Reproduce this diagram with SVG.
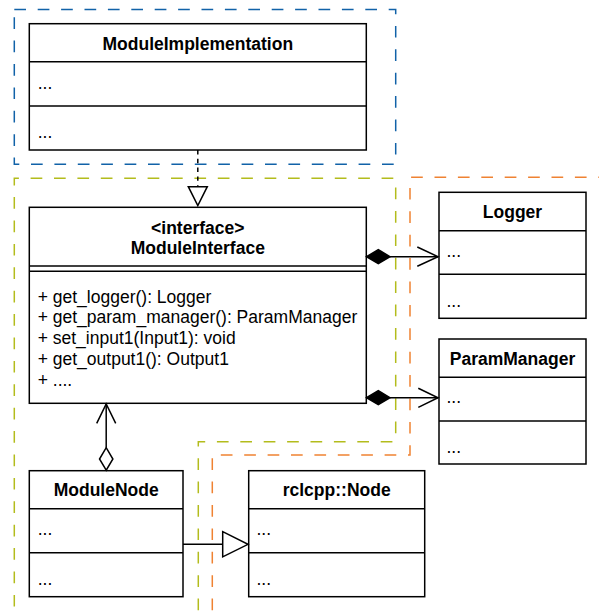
<svg xmlns="http://www.w3.org/2000/svg" width="599" height="616" viewBox="0 0 599 616">
<style>
  .box { fill: #ffffff; stroke: #000000; stroke-width: 1.5; }
  .div { stroke: #000000; stroke-width: 1.5; fill: none; }
  .title { font-family: "Liberation Sans", Arial, Helvetica, sans-serif; font-size: 17.5px; font-weight: bold; text-anchor: middle; fill: #000000; }
  .txt { font-family: "Liberation Sans", Arial, Helvetica, sans-serif; font-size: 17.5px; fill: #000000; }
  .region { fill: none; stroke-width: 1.5; stroke-dasharray: 11.7 11.7; }
  .edge { fill: none; stroke: #000000; stroke-width: 1.5; }
</style>
<rect width="599" height="616" fill="#ffffff"/>

<g id="regions">
  <path class="region" stroke="#1162A8" d="M14.3,9.5 H395.7 V164.3 H14.3 Z"/>
  <path class="region" stroke="#B3BC1C" d="M14.3,630 V178.3 H395.7 V441.7 H198.3 V630"/>
  <path class="region" stroke="#EF8232" d="M610,177.3 H410 V455 H212.3 V630"/>
</g>

<g id="ModuleImplementation">
  <rect class="box" x="29.3" y="23.7" width="337" height="126.3"/>
  <line class="div" x1="29.3" y1="61.7" x2="366.3" y2="61.7"/>
  <line class="div" x1="29.3" y1="106" x2="366.3" y2="106"/>
  <text class="title" x="197.8" y="49.5">ModuleImplementation</text>
  <text class="txt" x="37.7" y="89">...</text>
  <text class="txt" x="37.7" y="138">...</text>
</g>

<g id="ModuleInterface">
  <rect class="box" x="29.3" y="207.3" width="337" height="196"/>
  <line class="div" x1="29.3" y1="266" x2="366.3" y2="266"/>
  <line class="div" x1="29.3" y1="271.3" x2="366.3" y2="271.3"/>
  <text class="title" x="197.8" y="233.5">&lt;interface&gt;</text>
  <text class="title" x="197.8" y="253.5">ModuleInterface</text>
  <text class="txt" x="37.7" y="302.5">+ get_logger(): Logger</text>
  <text class="txt" x="37.7" y="323.3">+ get_param_manager(): ParamManager</text>
  <text class="txt" x="37.7" y="344.1">+ set_input1(Input1): void</text>
  <text class="txt" x="37.7" y="364.9">+ get_output1(): Output1</text>
  <text class="txt" x="37.7" y="385.7">+ ....</text>
</g>

<g id="Logger">
  <rect class="box" x="439" y="192.3" width="147" height="126"/>
  <line class="div" x1="439" y1="230.7" x2="586" y2="230.7"/>
  <line class="div" x1="439" y1="274.3" x2="586" y2="274.3"/>
  <text class="title" x="512.5" y="217.8">Logger</text>
  <text class="txt" x="446.5" y="256.5">...</text>
  <text class="txt" x="446.5" y="306.5">...</text>
</g>

<g id="ParamManager">
  <rect class="box" x="439" y="339" width="147" height="125"/>
  <line class="div" x1="439" y1="377.3" x2="586" y2="377.3"/>
  <line class="div" x1="439" y1="421" x2="586" y2="421"/>
  <text class="title" x="512.5" y="364.5">ParamManager</text>
  <text class="txt" x="446.5" y="402.5">...</text>
  <text class="txt" x="446.5" y="452.5">...</text>
</g>

<g id="ModuleNode">
  <rect class="box" x="29.3" y="470.7" width="153.7" height="126"/>
  <line class="div" x1="29.3" y1="508.7" x2="183" y2="508.7"/>
  <line class="div" x1="29.3" y1="552.7" x2="183" y2="552.7"/>
  <text class="title" x="106.2" y="496.3">ModuleNode</text>
  <text class="txt" x="37.7" y="534.5">...</text>
  <text class="txt" x="37.7" y="584.5">...</text>
</g>

<g id="rclcppNode">
  <rect class="box" x="248.7" y="470.7" width="176" height="126"/>
  <line class="div" x1="248.7" y1="508.7" x2="424.7" y2="508.7"/>
  <line class="div" x1="248.7" y1="552.7" x2="424.7" y2="552.7"/>
  <text class="title" x="336.7" y="496.3">rclcpp::Node</text>
  <text class="txt" x="256.5" y="534.5">...</text>
  <text class="txt" x="256.5" y="584.5">...</text>
</g>

<g id="connectors">
  <!-- realization ModuleImplementation -> ModuleInterface -->
  <line class="edge" x1="197.8" y1="150" x2="197.8" y2="186.7" stroke-dasharray="4.4 4.4"/>
  <path class="edge" fill="#ffffff" d="M188.3,186.7 L207.3,186.7 L197.8,205.5 Z" style="fill:#ffffff"/>
  <!-- composition ModuleInterface -> Logger -->
  <line class="edge" x1="390" y1="256.7" x2="438" y2="256.7"/>
  <path d="M366.5,256.7 L378.3,249.7 L390,256.7 L378.3,263.7 Z" fill="#000000" stroke="#000000" stroke-width="1.5"/>
  <path class="edge" d="M417.3,247 L438,256.7 L417.3,266.3"/>
  <!-- composition ModuleInterface -> ParamManager -->
  <line class="edge" x1="390" y1="397.7" x2="438" y2="397.7"/>
  <path d="M366.5,397.7 L378.3,390.7 L390,397.7 L378.3,404.7 Z" fill="#000000" stroke="#000000" stroke-width="1.5"/>
  <path class="edge" d="M418.3,388.3 L438,397.7 L418.3,407.3"/>
  <!-- aggregation ModuleNode -> ModuleInterface -->
  <line class="edge" x1="106.2" y1="447.7" x2="106.2" y2="404"/>
  <path class="edge" d="M106.2,470.2 L99.5,459 L106.2,447.7 L112.9,459 Z" style="fill:#ffffff"/>
  <path class="edge" d="M96.7,423.3 L106.2,404 L115.7,423.3"/>
  <!-- generalization ModuleNode -> rclcpp::Node -->
  <line class="edge" x1="183" y1="544.3" x2="222.7" y2="544.3"/>
  <path class="edge" d="M222.7,531.7 L248,544.3 L222.7,556.9 Z" style="fill:#ffffff"/>
</g>
</svg>
